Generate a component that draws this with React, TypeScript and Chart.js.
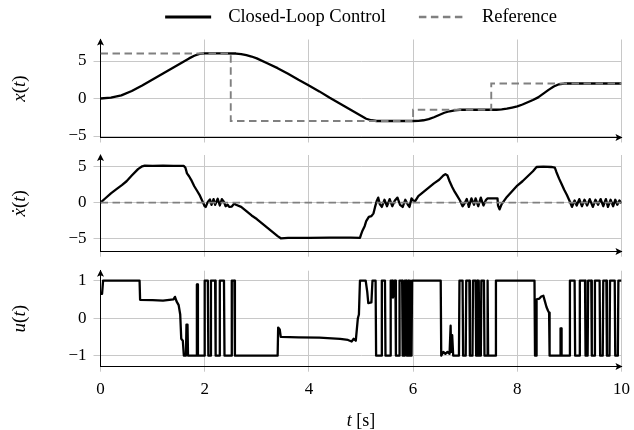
import React, { useEffect, useRef } from "react";
import { Chart, registerables } from "chart.js";

Chart.register(...registerables);

type Pt = [number, number];

// ---------- data ----------
const TIME_TICKS = [0, 2, 4, 6, 8, 10];
const POSITION_TICKS = [-5, 0, 5];
const VELOCITY_TICKS = [-5, 0, 5];
const INPUT_TICKS = [-1, 0, 1];

const LEGEND_LABELS = ["Closed-Loop Control", "Reference"];

const POSITION_REFERENCE: Pt[] = [
  [0, 6], [2.5, 6], [2.5, -3], [6, -3], [6, -1.5], [7.5, -1.5], [7.5, 2], [10, 2],
];

const POSITION: Pt[] = [
  [0, 0], [0.2, 0.12], [0.4, 0.42], [0.6, 1.0], [0.8, 1.75], [1.0, 2.55], [1.2, 3.35],
  [1.4, 4.15], [1.6, 4.95], [1.7, 5.35], [1.8, 5.7], [1.9, 5.95], [2.0, 6.02], [2.3, 6.02],
  [2.6, 6.0], [2.7, 5.92], [2.8, 5.78], [2.9, 5.6], [3.0, 5.35], [3.2, 4.7], [3.4, 4.05],
  [3.6, 3.3], [3.8, 2.5], [4.0, 1.75], [4.2, 0.95], [4.4, 0.1], [4.6, -0.7], [4.8, -1.5],
  [5.0, -2.3], [5.1, -2.7], [5.2, -2.9], [5.3, -3.0], [6.0, -3.0], [6.1, -2.97],
  [6.2, -2.9], [6.3, -2.75], [6.4, -2.5], [6.5, -2.2], [6.6, -1.9], [6.7, -1.7],
  [6.8, -1.57], [6.9, -1.5], [7.6, -1.5], [7.7, -1.45], [7.8, -1.35], [7.9, -1.2],
  [8.0, -1.05], [8.1, -0.8], [8.2, -0.5], [8.3, -0.2], [8.4, 0.15], [8.5, 0.65],
  [8.6, 1.15], [8.7, 1.6], [8.8, 1.9], [8.9, 2.0], [10, 2.0],
];

const VELOCITY_REFERENCE: Pt[] = [[0, 0], [10, 0]];

const VELOCITY: Pt[] = [
  [0, 0], [0.1, 0.65], [0.2, 1.3], [0.3, 1.85], [0.41, 2.46], [0.5, 3.0], [0.6, 3.8],
  [0.72, 4.7], [0.8, 5.1], [0.85, 5.2], [1.0, 5.15], [1.2, 5.2], [1.4, 5.15], [1.6, 5.15],
  [1.63, 4.9], [1.66, 4.1], [1.7, 3.7], [1.74, 3.2], [1.8, 2.3], [1.85, 1.7], [1.9, 1.1],
  [1.95, 0.3], [2.0, -0.5], [2.02, -0.6], [2.06, 0.1], [2.1, 0.45], [2.13, -0.3],
  [2.17, 0.5], [2.2, -0.3], [2.25, 0.55], [2.29, -0.4], [2.33, 0.5], [2.37, 0.1],
  [2.4, -0.5], [2.44, -0.3], [2.47, -0.6], [2.52, -0.55], [2.57, -0.1], [2.6, -0.3],
  [2.7, -0.6], [2.8, -1.2], [2.9, -1.8], [3.0, -2.3], [3.1, -2.9], [3.2, -3.5],
  [3.3, -4.1], [3.4, -4.7], [3.46, -5.0], [3.6, -4.95], [4.0, -4.95], [4.4, -4.9],
  [4.8, -4.9], [4.98, -4.95], [5.0, -4.5], [5.03, -3.9], [5.07, -3.3], [5.1, -2.6],
  [5.15, -2.0], [5.2, -1.9], [5.24, -1.5], [5.27, -0.6], [5.3, 0.2], [5.33, 0.7],
  [5.36, -0.2], [5.4, -0.6], [5.45, 0.4], [5.5, -0.5], [5.55, 0.5], [5.6, -0.5],
  [5.65, 0.3], [5.7, 0.7], [5.75, -0.3], [5.8, -0.6], [5.85, 0.4], [5.9, -0.3],
  [5.93, -0.6], [5.97, 0.6], [6.0, 0.3], [6.04, 0.2], [6.1, 0.9], [6.2, 1.5], [6.3, 2.1],
  [6.4, 2.7], [6.5, 3.2], [6.58, 3.8], [6.62, 4.0], [6.66, 3.8], [6.7, 3.0], [6.75, 2.2],
  [6.8, 1.5], [6.85, 0.9], [6.9, 0.3], [6.95, -0.5], [6.99, -0.1], [7.03, 0.5],
  [7.07, -0.6], [7.12, 0.6], [7.17, -0.3], [7.2, 0.6], [7.25, -0.5], [7.3, 0.7],
  [7.35, -0.4], [7.4, 0.4], [7.43, 0.6], [7.62, 0.6], [7.63, -0.4], [7.66, -0.95],
  [7.7, -0.2], [7.8, 0.8], [7.9, 1.6], [8.0, 2.4], [8.1, 3.0], [8.2, 3.7], [8.3, 4.4],
  [8.37, 5.0], [8.5, 5.05], [8.65, 5.0], [8.72, 4.9], [8.75, 4.3], [8.8, 3.4],
  [8.85, 2.6], [8.9, 1.8], [8.95, 1.1], [9.0, 0.3], [9.05, -0.6], [9.1, 0.3],
  [9.14, -0.4], [9.19, 0.5], [9.24, -0.5], [9.29, 0.4], [9.34, -0.4], [9.39, 0.5],
  [9.45, -0.6], [9.5, 0.4], [9.55, -0.3], [9.6, 0.5], [9.65, -0.5], [9.7, 0.5],
  [9.74, -0.6], [9.79, 0.4], [9.84, -0.5], [9.88, 0.4], [9.92, -0.3], [9.96, 0.3],
  [10, -0.1],
];

const INPUT: Pt[] = [
  [0, 0.65], [0.03, 0.65], [0.05, 1], [0.75, 1], [0.76, 0.49], [1.0, 0.48], [1.2, 0.47],
  [1.4, 0.5], [1.43, 0.57], [1.46, 0.45], [1.5, 0.35], [1.53, 0.1], [1.55, -0.55],
  [1.58, -0.6], [1.6, -1], [1.64, -1], [1.65, -0.17], [1.67, -0.17], [1.68, -1],
  [1.84, -1], [1.85, 0.9], [1.86, 0.9], [1.87, -1], [1.99, -1], [2.0, 1], [2.06, 1],
  [2.07, -1], [2.11, -1], [2.12, 1], [2.2, 1], [2.21, -1], [2.28, -1], [2.29, 1],
  [2.37, 1], [2.38, -1], [2.51, -1], [2.52, 1], [2.57, 1], [2.58, -1], [3.4, -1],
  [3.41, -0.25], [3.44, -0.3], [3.46, -0.5], [3.8, -0.51], [4.2, -0.52], [4.6, -0.55],
  [4.75, -0.58], [4.82, -0.62], [4.86, -0.55], [4.9, -0.6], [4.92, -0.3], [4.94, 0],
  [4.96, 0.1], [4.98, 1], [5.09, 1], [5.12, 0.7], [5.14, 0.4], [5.2, 0.42], [5.22, 1],
  [5.28, 1], [5.29, -1], [5.39, -1], [5.4, 1], [5.46, 1], [5.47, -1], [5.56, -1],
  [5.57, 1], [5.6, 1], [5.61, 0.55], [5.63, 0.6], [5.64, 1], [5.66, 1], [5.67, -1],
  [5.73, -1], [5.74, 1], [5.79, 1], [5.8, -1], [5.83, -1], [5.84, 1], [5.87, 1],
  [5.88, -1], [5.9, -1], [5.91, 1], [5.92, -1], [5.94, 1], [5.95, -1], [5.97, -1],
  [5.98, 1], [6.53, 1], [6.54, -1], [6.58, -0.9], [6.62, -0.95], [6.66, -0.9],
  [6.7, -0.95], [6.72, -0.2], [6.73, -0.9], [6.75, -0.45], [6.77, -1], [6.88, -1],
  [6.89, 1], [6.95, 1], [6.96, -1], [7.01, -1], [7.02, 1], [7.08, 1], [7.09, -1],
  [7.14, -1], [7.15, 1], [7.2, 1], [7.21, -1], [7.23, 1], [7.24, -1], [7.26, 1],
  [7.27, -1], [7.3, -1], [7.31, 1], [7.36, 1], [7.37, -1], [7.42, -1], [7.43, 1],
  [7.44, -1], [7.58, -1], [7.59, 1], [8.33, 1], [8.34, -1], [8.36, -1], [8.37, 0.5],
  [8.42, 0.52], [8.46, 0.58], [8.5, 0.6], [8.53, 0.45], [8.56, 0.3], [8.59, 0.2],
  [8.61, 0.15], [8.62, -1], [8.82, -1], [8.83, -0.27], [8.84, -0.27], [8.85, -1],
  [9.0, -1], [9.01, 1], [9.1, 1], [9.11, -1], [9.19, -1], [9.2, 1], [9.3, 1], [9.31, -1],
  [9.35, -1], [9.36, 1], [9.42, 1], [9.43, -1], [9.48, -1], [9.49, 1], [9.58, 1],
  [9.59, -1], [9.64, -1], [9.65, 1], [9.71, 1], [9.72, -1], [9.77, -1], [9.78, 1],
  [9.87, 1], [9.88, -1], [9.93, -1], [9.94, 1], [10, 1],
];

// ---------- styling ----------
const SERIF = "'Liberation Serif', 'Times New Roman', serif";
const FONT_SIZE = 17;
const LEGEND_FONT_SIZE = 18.5;
const LABEL_FONT_SIZE = 19;
const GRID = "#c8c8c8";
const LINE = "#000000";
const REF = "#808080";
const W = 634;
const AXIS_LEFT = 100.5;
const AXIS_RIGHT = 621.5;

type Run = { t: string; i: boolean };

function drawRuns(ctx: CanvasRenderingContext2D, runs: Run[], cx: number, cy: number, rot: number, size: number) {
  ctx.save();
  ctx.translate(cx, cy);
  ctx.rotate(rot);
  ctx.textBaseline = "middle";
  ctx.textAlign = "left";
  ctx.fillStyle = "#000";
  let total = 0;
  const widths = runs.map((r) => {
    ctx.font = `${r.i ? "italic " : ""}${size}px ${SERIF}`;
    const w = ctx.measureText(r.t).width;
    total += w;
    return w;
  });
  let x = -total / 2;
  runs.forEach((r, k) => {
    ctx.font = `${r.i ? "italic " : ""}${size}px ${SERIF}`;
    ctx.fillText(r.t, x, 0);
    x += widths[k];
  });
  ctx.restore();
}

const align = (v: number) => Math.round(v - 0.5) + 0.5;

const decorPlugin = {
  id: "decor",
  afterDraw(chart: any, _args: any, opts: any) {
    const { ctx, chartArea: a } = chart;
    ctx.save();
    ctx.fillStyle = "#000";
    // y-axis arrow
    const lx = align(a.left);
    const ty = a.top;
    ctx.beginPath();
    ctx.moveTo(lx, ty - 1);
    ctx.lineTo(lx - 3.5, ty + 6);
    ctx.lineTo(lx, ty + 4.5);
    ctx.lineTo(lx + 3.5, ty + 6);
    ctx.closePath();
    ctx.fill();
    // x-axis arrow
    const by = align(a.bottom);
    const rx = a.right;
    ctx.beginPath();
    ctx.moveTo(rx + 1, by);
    ctx.lineTo(rx - 6, by - 3.5);
    ctx.lineTo(rx - 4.5, by);
    ctx.lineTo(rx - 6, by + 3.5);
    ctx.closePath();
    ctx.fill();

    if (opts.yLabel) {
      drawRuns(ctx, opts.yLabel, opts.yLabelX, (a.top + a.bottom) / 2, -Math.PI / 2, LABEL_FONT_SIZE);
    }
    if (opts.xLabel) {
      drawRuns(ctx, opts.xLabel, (a.left + a.right) / 2, opts.xLabelY, 0, FONT_SIZE + 1);
    }
    if (opts.legend) {
      const items = chart.data.datasets.slice().reverse();
      const lineLen = 46;
      const gapText = 17;
      const gapItem = 33;
      ctx.font = `${LEGEND_FONT_SIZE}px ${SERIF}`;
      const widths = items.map((d: any) => ctx.measureText(d.label).width);
      let total = 0;
      widths.forEach((w: number, k: number) => {
        total += lineLen + gapText + w + (k < widths.length - 1 ? gapItem : 0);
      });
      let x = (a.left + a.right) / 2 - total / 2;
      const y = opts.legendY;
      items.forEach((d: any, k: number) => {
        ctx.save();
        ctx.strokeStyle = d.borderColor;
        ctx.lineWidth = d.borderWidth + 0.7;
        ctx.setLineDash(d.borderDash || []);
        ctx.beginPath();
        ctx.moveTo(x, y);
        ctx.lineTo(x + lineLen, y);
        ctx.stroke();
        ctx.restore();
        x += lineLen + gapText;
        ctx.fillStyle = "#000";
        ctx.textBaseline = "middle";
        ctx.textAlign = "left";
        ctx.font = `${LEGEND_FONT_SIZE}px ${SERIF}`;
        ctx.fillText(d.label, x, y);
        x += widths[k] + gapItem;
      });
    }
    ctx.restore();
  },
};

const fmt = (v: number) => (v < 0 ? "\u2212" + Math.abs(v) : String(v));

function makeConfig(opts: {
  data: Pt[];
  ref: Pt[];
  yMin: number;
  yMax: number;
  yTicks: number[];
  padTop: number;
  xHeight: number;
  showX: boolean;
  decor: any;
}) {
  const datasets: any[] = [];
  if (opts.ref.length) {
    datasets.push({
      label: LEGEND_LABELS[1],
      data: opts.ref.map(([x, y]) => ({ x, y })),
      borderColor: REF,
      borderWidth: 1.9,
      borderDash: [7.5, 4.5],
      pointRadius: 0,
      tension: 0,
      fill: false,
    });
  }
  datasets.push({
    label: LEGEND_LABELS[0],
    data: opts.data.map(([x, y]) => ({ x, y })),
    borderColor: LINE,
    borderWidth: 2.3,
    pointRadius: 0,
    tension: 0,
    fill: false,
    borderJoinStyle: "round",
  });
  return {
    type: "line" as const,
    data: { datasets },
    options: {
      responsive: false,
      animation: false,
      events: [],
      layout: { padding: { top: opts.padTop, right: W - AXIS_RIGHT, left: 0, bottom: 0 } },
      plugins: {
        legend: { display: false },
        tooltip: { enabled: false },
        decor: opts.decor,
      },
      scales: {
        x: {
          type: "linear",
          min: 0,
          max: 10,
          afterBuildTicks: (s: any) => {
            s.ticks = TIME_TICKS.map((v) => ({ value: v }));
          },
          afterFit: (s: any) => {
            s.height = opts.xHeight;
            s.paddingLeft = 0;
            s.paddingRight = 0;
          },
          grid: { color: GRID, lineWidth: 1, tickLength: 5, drawTicks: true },
          border: { display: true, color: "#000", width: 1 },
          ticks: {
            display: opts.showX,
            padding: 8,
            color: "#000",
            font: { family: SERIF, size: FONT_SIZE },
            maxRotation: 0,
            callback: (v: number) => fmt(v),
          },
        },
        y: {
          type: "linear",
          min: opts.yMin,
          max: opts.yMax,
          afterBuildTicks: (s: any) => {
            s.ticks = opts.yTicks.map((v) => ({ value: v }));
          },
          afterFit: (s: any) => {
            s.width = AXIS_LEFT;
            s.paddingTop = 0;
            s.paddingBottom = 0;
          },
          grid: { color: GRID, lineWidth: 1, tickLength: 7, drawTicks: true },
          border: { display: true, color: "#000", width: 1 },
          ticks: {
            padding: 7,
            color: "#000",
            font: { family: SERIF, size: FONT_SIZE },
            callback: (v: number) => fmt(v),
          },
        },
      },
    },
    plugins: [decorPlugin],
  };
}

const Y_LABEL_X = 20;

export default function App() {
  const c1 = useRef<HTMLCanvasElement>(null);
  const c2 = useRef<HTMLCanvasElement>(null);
  const c3 = useRef<HTMLCanvasElement>(null);

  useEffect(() => {
    const charts: Chart[] = [];
    charts.push(
      new Chart(
        c1.current!,
        makeConfig({
          data: POSITION,
          ref: POSITION_REFERENCE,
          yMin: -5.2,
          yMax: 7.87,
          yTicks: POSITION_TICKS,
          padTop: 39.5,
          xHeight: 145 - 137.5,
          showX: false,
          decor: {
            yLabel: [
              { t: "x", i: true },
              { t: "(", i: false },
              { t: "t", i: true },
              { t: ")", i: false },
            ],
            yLabelX: Y_LABEL_X,
            legend: true,
            legendY: 17,
          },
        }) as any
      )
    );
    charts.push(
      new Chart(
        c2.current!,
        makeConfig({
          data: VELOCITY,
          ref: VELOCITY_REFERENCE,
          yMin: -6.88,
          yMax: 6.68,
          yTicks: VELOCITY_TICKS,
          padTop: 10,
          xHeight: 115 - 106.7,
          showX: false,
          decor: {
            yLabel: [
              { t: "\u1E8B", i: true },
              { t: "(", i: false },
              { t: "t", i: true },
              { t: ")", i: false },
            ],
            yLabelX: Y_LABEL_X,
          },
        }) as any
      )
    );
    charts.push(
      new Chart(
        c3.current!,
        makeConfig({
          data: INPUT,
          ref: [],
          yMin: -1.293,
          yMax: 1.267,
          yTicks: INPUT_TICKS,
          padTop: 10.7,
          xHeight: 170 - 106.7,
          showX: true,
          decor: {
            yLabel: [
              { t: "u", i: true },
              { t: "(", i: false },
              { t: "t", i: true },
              { t: ")", i: false },
            ],
            yLabelX: Y_LABEL_X,
            xLabel: [
              { t: "t", i: true },
              { t: " [s]", i: false },
            ],
            xLabelY: 161,
          },
        }) as any
      )
    );
    return () => charts.forEach((c) => c.destroy());
  }, []);

  const cs = (h: number): React.CSSProperties => ({ display: "block", width: W, height: h });

  return (
    <div style={{ position: "absolute", left: 0, top: 0, width: W, height: 430, background: "#fff" }}>
      <canvas ref={c1} width={W} height={145} style={cs(145)} />
      <canvas ref={c2} width={W} height={115} style={cs(115)} />
      <canvas ref={c3} width={W} height={170} style={cs(170)} />
    </div>
  );
}
